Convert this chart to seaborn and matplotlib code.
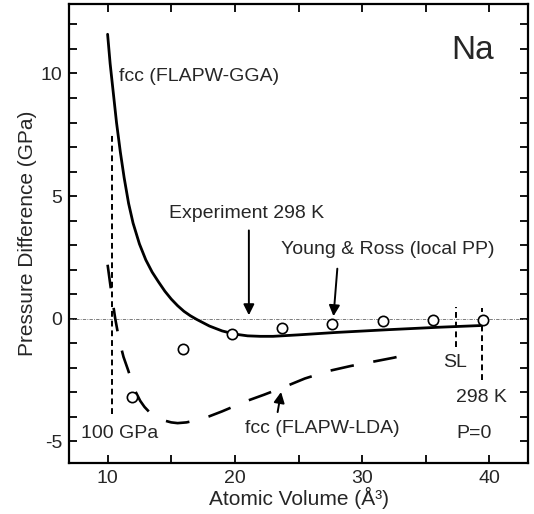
import matplotlib
matplotlib.use("Agg")
import matplotlib.pyplot as plt
from matplotlib.ticker import MultipleLocator, FuncFormatter
import seaborn as sns
import pandas as pd

# fcc Na, FLAPW-GGA pressure difference (solid curve)
gga_volume = [10.0, 10.2, 10.45, 10.7, 11.0, 11.3, 11.65, 12.0, 12.5, 13.0,
              13.5, 14.0, 14.5, 15.0, 15.5, 16.0, 16.5, 17.0, 18.0, 19.0,
              20.0, 21.0, 22.0, 23.0, 25.0, 28.0, 32.0, 36.0, 39.3]
gga_dp = [11.6, 10.4, 9.2, 8.0, 6.8, 5.75, 4.7, 3.9, 3.05, 2.4,
          1.9, 1.5, 1.12, 0.80, 0.53, 0.30, 0.12, -0.03, -0.30, -0.50,
          -0.63, -0.70, -0.72, -0.72, -0.66, -0.56, -0.45, -0.35, -0.28]

# fcc Na, FLAPW-LDA pressure difference (long-dashed curve)
lda_volume = [10.0, 10.3, 10.6, 10.9, 11.25, 11.6, 11.9, 12.2, 12.56, 12.9,
              13.3, 13.87, 14.5, 15.0, 15.5, 16.2, 16.9, 18.0, 19.0, 20.0,
              20.7, 21.5, 22.3, 24.0, 25.5, 27.4, 29.1, 30.8, 32.5, 33.5]
lda_dp = [2.2, 1.05, 0.0, -0.85, -1.56, -2.08, -2.55, -2.98, -3.35, -3.6,
          -3.82, -4.01, -4.16, -4.23, -4.26, -4.23, -4.15, -3.98, -3.78, -3.56,
          -3.40, -3.25, -3.10, -2.76, -2.44, -2.13, -1.93, -1.76, -1.59, -1.47]

# Young & Ross local pseudopotential results (open circles)
yr_volume = [11.9, 15.9, 19.8, 23.7, 27.6, 31.6, 35.6, 39.5]
yr_dp = [-3.2, -1.22, -0.62, -0.38, -0.20, -0.11, -0.07, -0.05]

# Reference volumes marked by short vertical dashed lines: 100 GPa, SL, 298 K
ref_volume = [10.33, 37.35, 39.45]
ref_top = [7.55, 0.48, 0.42]
ref_bottom = [-3.87, -1.15, -2.5]

sns.set_theme(style="ticks")
plt.rcParams["font.family"] = ["Liberation Sans", "DejaVu Sans"]
plt.rcParams["axes.unicode_minus"] = False

fig = plt.figure(figsize=(5.34, 5.14), dpi=100)
ax = fig.add_axes([0.130, 0.100, 0.858, 0.892])

# zero reference line
ax.axhline(0, color="#666666", lw=0.6, ls=(0, (4, 1.5, 1, 1.5)), zorder=1)

gga = pd.DataFrame({"V": gga_volume, "dP": gga_dp})
lda = pd.DataFrame({"V": lda_volume, "dP": lda_dp})
yr = pd.DataFrame({"V": yr_volume, "dP": yr_dp})

sns.lineplot(data=gga, x="V", y="dP", sort=False, color="black", lw=2.0,
             ax=ax, zorder=3)
line_lda = sns.lineplot(data=lda, x="V", y="dP", sort=False, color="black",
                        lw=1.9, ax=ax, zorder=3).lines[-1]
line_lda.set_dashes((9, 7.5))

for v, top, bot in zip(ref_volume, ref_top, ref_bottom):
    ax.plot([v, v], [bot, top], color="black", lw=1.4, ls=(0, (3, 2)), zorder=2)

sns.scatterplot(data=yr, x="V", y="dP", marker="o", s=55, facecolor="white",
                edgecolor="black", linewidth=1.2, ax=ax, zorder=5)

# arrows pointing at the curves
arrow_kw = dict(arrowstyle="-|>", mutation_scale=16, lw=1.4, color="black",
                shrinkA=0, shrinkB=0)
ax.annotate("", xy=(21.1, 0.14), xytext=(21.1, 3.6), arrowprops=arrow_kw)
ax.annotate("", xy=(27.75, 0.1), xytext=(28.05, 2.04), arrowprops=arrow_kw)
ax.annotate("", xy=(23.63, -2.99), xytext=(23.36, -3.81), arrowprops=arrow_kw)

fs = 14
ax.text(10.86, 9.89, "fcc (FLAPW-GGA)", fontsize=fs, ha="left", va="center")
ax.text(14.85, 4.29, "Experiment 298 K", fontsize=fs, ha="left", va="center")
ax.text(23.63, 2.82, "Young & Ross (local PP)", fontsize=fs, ha="left", va="center")
ax.text(7.9, -4.69, "100 GPa", fontsize=fs, ha="left", va="center")
ax.text(20.81, -4.48, "fcc (FLAPW-LDA)", fontsize=fs, ha="left", va="center")
ax.text(36.39, -1.8, "SL", fontsize=fs, ha="left", va="center")
ax.text(37.41, -3.2, "298 K", fontsize=fs, ha="left", va="center")
ax.text(37.41, -4.69, "P=0", fontsize=fs, ha="left", va="center")
ax.text(37.0, 10.95, "Na", fontsize=24, ha="left", va="center")

ax.set_xlim(7, 43)
ax.set_ylim(-5.87, 12.83)
ax.xaxis.set_major_locator(MultipleLocator(5))
ax.xaxis.set_major_formatter(FuncFormatter(lambda v, p: f"{v:.0f}" if v % 10 == 0 else ""))
ax.yaxis.set_major_locator(MultipleLocator(5))
ax.yaxis.set_minor_locator(MultipleLocator(1))
ax.tick_params(which="both", direction="in", top=True, right=True,
               length=6, width=1.3, color="black", labelsize=14, pad=5)

ax.set_xlabel("Atomic Volume (Å³)", fontsize=15, labelpad=0)
ax.set_ylabel("Pressure Difference (GPa)", fontsize=15, labelpad=3)

for sp in ax.spines.values():
    sp.set_visible(True)
    sp.set_linewidth(1.6)
    sp.set_color("black")

fig.savefig("out.png", dpi=100)
